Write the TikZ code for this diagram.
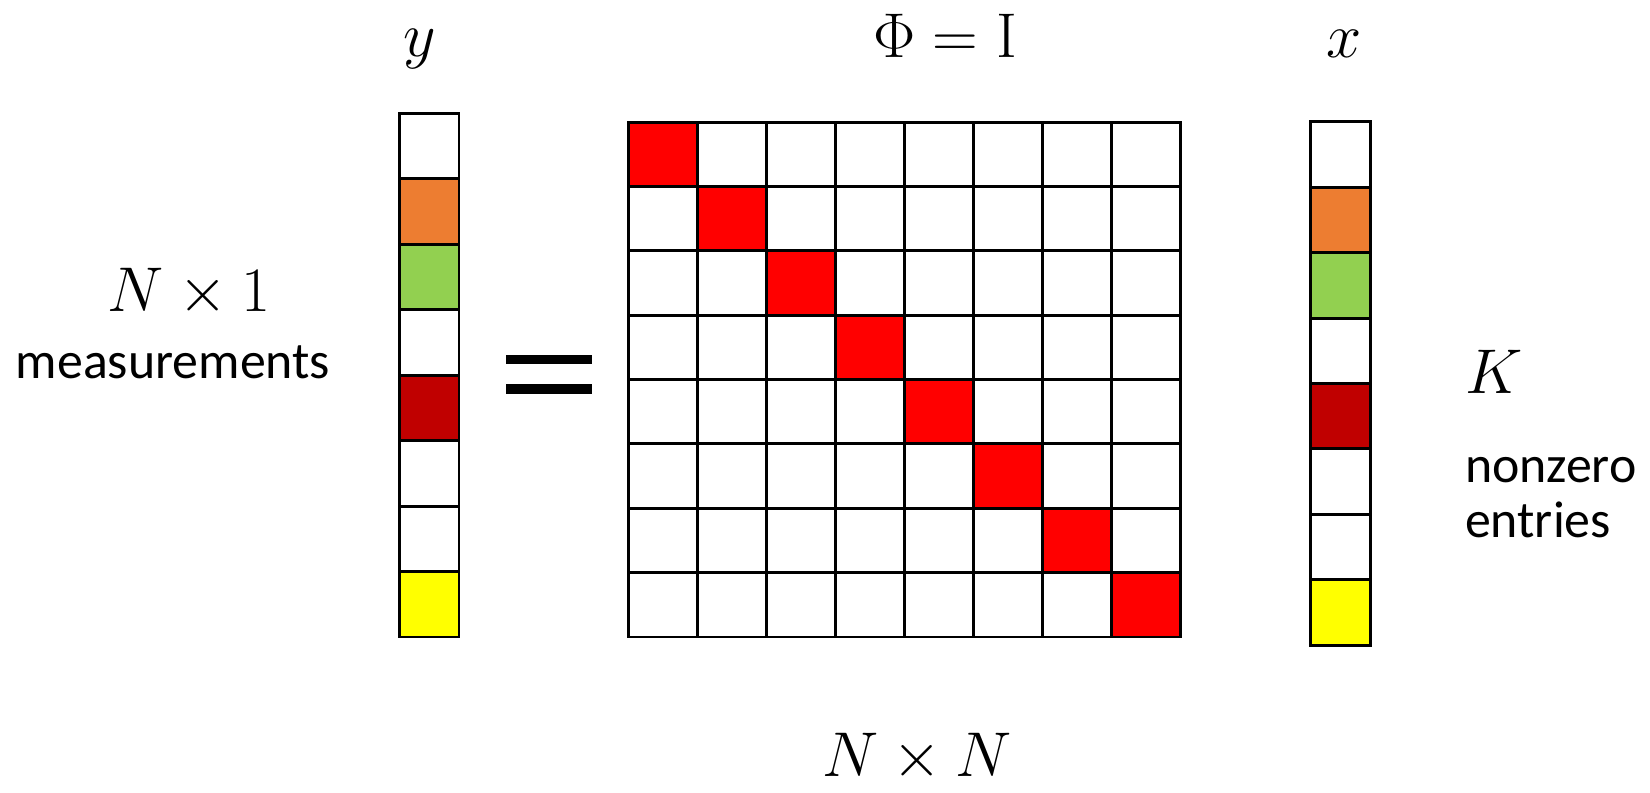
\RequirePackage{fix-cm}
\documentclass[tikz,border=0pt]{standalone}
\usepackage{amsmath,amssymb}
\usepackage{fontspec}
\setsansfont{Carlito}
\usepackage{xcolor}
\usepackage{tikz}

\definecolor{cellorange}{RGB}{237,125,49}
\definecolor{cellgreen}{RGB}{146,208,80}
\definecolor{celldark}{RGB}{192,0,0}
\definecolor{cellred}{RGB}{255,0,0}
\definecolor{cellyellow}{RGB}{255,255,0}

\begin{document}
\begin{tikzpicture}[x=0.02cm,y=-0.02cm,
  every node/.style={outer sep=0pt, inner sep=0pt},
  vcell/.style={draw, line width=1.7pt, minimum width=1.2cm, minimum height=1.31cm},
  mcell/.style={draw, line width=1.7pt, minimum width=1.38cm, minimum height=1.2875cm},
  mathlbl/.style={font=\fontsize{36}{43}\selectfont, anchor=base},
  wordlbl/.style={font=\sffamily\fontsize{29.5}{35}\selectfont, anchor=base}]
\useasboundingbox (0,0) rectangle (1650,792);
% vector y
\foreach \c [count=\k from 0] in {white,cellorange,cellgreen,white,celldark,white,white,cellyellow}
  \node[vcell, fill=\c] (y\k) at (429,{113+65.5*(\k+0.5)}) {};
% matrix Phi
\foreach \i in {0,...,7}
  \foreach \j in {0,...,7}
    \node[mcell] (m\i\j) at ({628+69*(\j+0.5)},{122+64.375*(\i+0.5)}) {};
\foreach \k in {0,...,7}
  \node[mcell, fill=cellred] (d\k) at ({628+69*(\k+0.5)},{122+64.375*(\k+0.5)}) {};
% vector x
\foreach \c [count=\k from 0] in {white,cellorange,cellgreen,white,celldark,white,white,cellyellow}
  \node[vcell, fill=\c] (x\k) at (1340.5,{122+65.375*(\k+0.5)}) {};
% equals sign
\fill (506,355) rectangle (592,364);
\fill (506,384) rectangle (592,394);
% labels
\node[mathlbl] (ylbl) at (420,56) {$y$};
\node[mathlbl] (philbl) at (945,57) {$\Phi = \mathrm{I}$};
\node[mathlbl] (xlbl) at (1344,57) {$x$};
\node[mathlbl] (nlbl) at (189,311) {$N \times 1$};
\node[wordlbl] (meas) at (173,378) {measurements};
\node[mathlbl] (nnlbl) at (917,776) {$N \times N$};
\node[mathlbl, anchor=base west] (klbl) at (1465,393) {$K$};
\node[wordlbl, anchor=base west] (nonz) at (1465,482) {nonzero};
\node[wordlbl, anchor=base west] (entr) at (1465,537) {entries};
\end{tikzpicture}
\end{document}
